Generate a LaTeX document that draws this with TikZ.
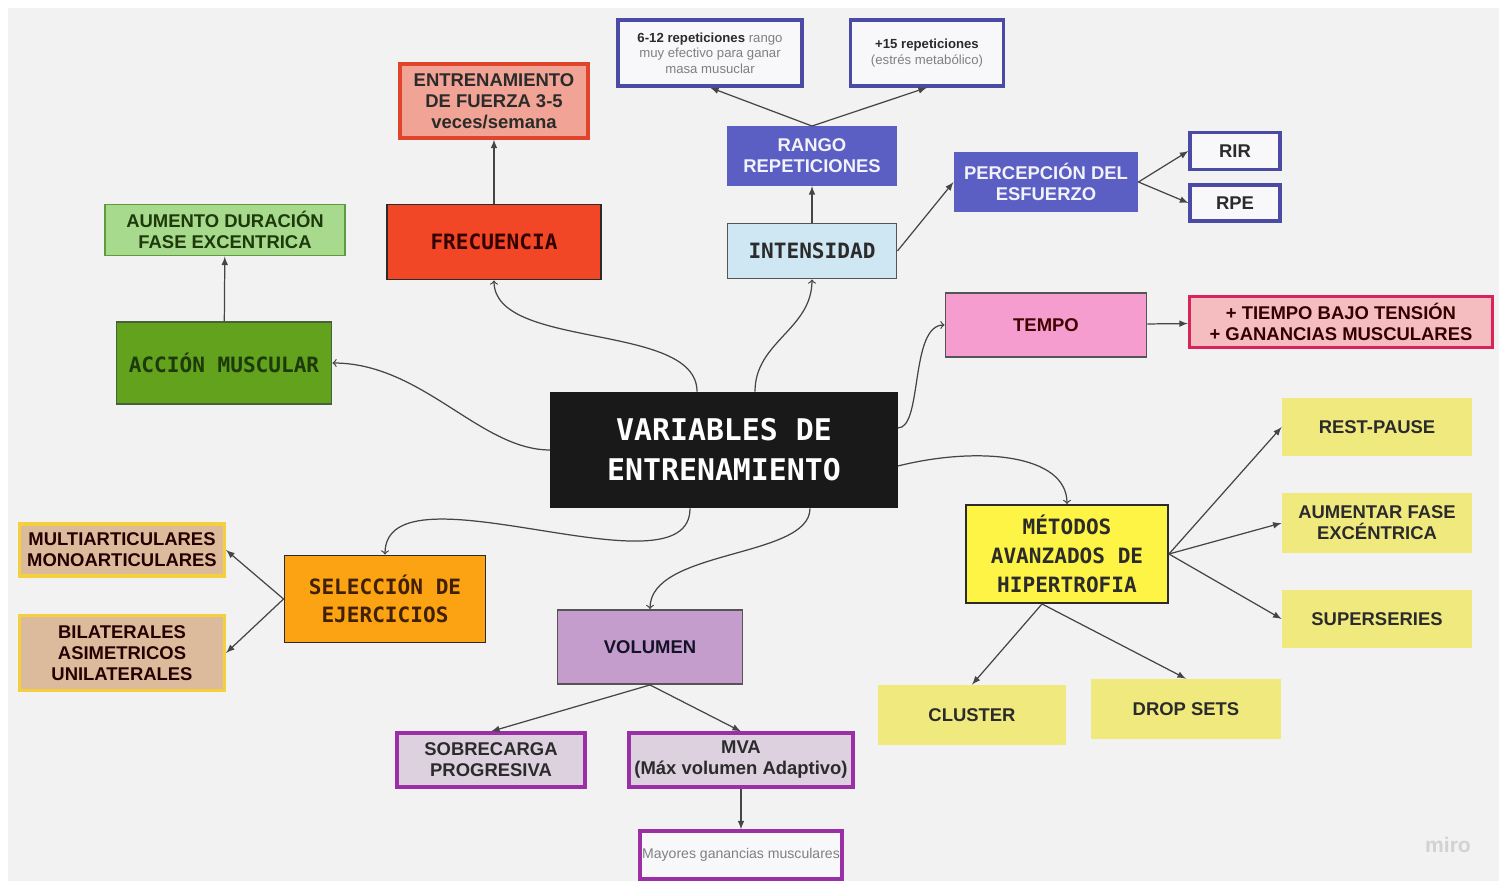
\documentclass[tikz,border=0pt]{standalone}
\usepackage{fontspec}
\setmainfont{Liberation Sans}
\setmonofont{DejaVu Sans Mono}
\usetikzlibrary{arrows}

\definecolor{canvas}{HTML}{F2F2F2}
\definecolor{linkgray}{HTML}{454545}
\definecolor{inkdark}{HTML}{2B2B2B}
\definecolor{frecred}{HTML}{F24726}
\definecolor{salmon}{HTML}{F1A395}
\definecolor{salmonline}{HTML}{E0452C}
\definecolor{lightgreen}{HTML}{A8DA8E}
\definecolor{greenline}{HTML}{5E9A3E}
\definecolor{musclegreen}{HTML}{62A21C}
\definecolor{darkgreen}{HTML}{1C3A0A}
\definecolor{iceblue}{HTML}{CFE6F3}
\definecolor{violet}{HTML}{5B5FC4}
\definecolor{violetline}{HTML}{4B4BA6}
\definecolor{paper}{HTML}{F8F8FB}
\definecolor{pinkbox}{HTML}{F59DCF}
\definecolor{rosebox}{HTML}{F6BDC0}
\definecolor{roseline}{HTML}{D7245C}
\definecolor{yellowbox}{HTML}{FEF445}
\definecolor{paleyellow}{HTML}{F0E97E}
\definecolor{orangebox}{HTML}{FCA313}
\definecolor{tanbox}{HTML}{DCBB9D}
\definecolor{tanline}{HTML}{F4CF3E}
\definecolor{lilac}{HTML}{C59DCC}
\definecolor{lavender}{HTML}{DDD1E0}
\definecolor{purpleline}{HTML}{9B2FA6}

\begin{document}
\begin{tikzpicture}[x=0.02cm, y=-0.02cm]
\tikzstyle{block} = [rectangle, draw=inkdark, line width=1.1pt, text=inkdark,
align=center, inner sep=1pt, font=\fontsize{10.5}{12}\selectfont\bfseries]
\tikzstyle{block_mono} = [block, font=\fontsize{12}{16.3}\selectfont\ttfamily\bfseries]
\tikzstyle{block_thin} = [block, line width=1.8pt]
\tikzstyle{note} = [block_thin, fill=paper, draw=violetline,
font=\fontsize{7.5}{8.8}\selectfont, text=gray]
\tikzstyle{method} = [rectangle, fill=paleyellow, text=inkdark, align=center,
minimum width=3.8cm, minimum height=1.18cm, font=\fontsize{10.5}{12}\selectfont\bfseries]
\tikzstyle{line} = [draw=linkgray, line width=0.7pt, ->]
\tikzstyle{link} = [draw=linkgray, line width=0.7pt, -latex]

\useasboundingbox (0,0) rectangle (1499,881);
\fill[white] (0,0) rectangle (1499,881);
\fill[canvas] (8,8) rectangle (1499,881);

% centre
\node [block_mono, fill=black!90, draw=black!90, text=white, minimum width=6.92cm, minimum height=2.3cm,
font=\fontsize{17}{22.7}\selectfont\ttfamily\bfseries] (centre) at (724,450) {VARIABLES DE\\ENTRENAMIENTO};

% upper left
\node [block_mono, fill=frecred, text=black!80!red, minimum width=4.28cm, minimum height=1.5cm] (frec) at (494,242) {FRECUENCIA};
\node [block_thin, fill=salmon, draw=salmonline, minimum width=3.76cm, minimum height=1.48cm] (fuerza) at (494,101) {ENTRENAMIENTO\\DE FUERZA 3-5\\veces/semana};
\node [block_mono, fill=musclegreen, draw=darkgreen!80, text=darkgreen, minimum width=4.3cm, minimum height=1.64cm] (accion) at (224,363) {ACCIÓN MUSCULAR};
\node [block, fill=lightgreen, draw=greenline, text=darkgreen, minimum width=4.8cm, minimum height=1.02cm] (aumento) at (225,230) {AUMENTO DURACIÓN\\FASE EXCENTRICA};

% upper right
\node [block_mono, fill=iceblue, draw=inkdark!80, minimum width=3.38cm, minimum height=1.1cm] (intens) at (812,251) {INTENSIDAD};
\node [block, fill=violet, draw=violet, text=white!92!violet, minimum width=3.38cm, minimum height=1.16cm] (rango) at (812,156) {RANGO\\REPETICIONES};
\node [note, minimum width=3.68cm, minimum height=1.32cm] (reps_a) at (710,53) {{\bfseries\color{inkdark}6-12 repeticiones} rango\\muy efectivo para ganar\\masa musuclar};
\node [note, minimum width=3.06cm, minimum height=1.32cm] (reps_b) at (927,53) {{\bfseries\color{inkdark}+15 repeticiones}\\(estrés metabólico)};
\node [block, fill=violet, draw=violet, text=white!92!violet, minimum width=3.66cm, minimum height=1.18cm] (percep) at (1046,182) {PERCEPCIÓN DEL\\ESFUERZO};
\node [block_thin, fill=paper, draw=violetline, minimum width=1.8cm, minimum height=0.74cm] (rir) at (1235,151) {RIR};
\node [block_thin, fill=paper, draw=violetline, minimum width=1.8cm, minimum height=0.72cm] (rpe) at (1235,203) {RPE};
\node [block, fill=pinkbox, draw=inkdark!80, text=black!75!red, minimum width=4.02cm, minimum height=1.28cm] (tempo) at (1046,325) {TEMPO};
\node [block_thin, fill=rosebox, draw=roseline, text=black!80!red, minimum width=6.06cm, minimum height=1.02cm] (tension) at (1341,322) {+ TIEMPO BAJO TENSIÓN\\+ GANANCIAS MUSCULARES};

% lower right
\node [block_mono, fill=yellowbox, minimum width=4.04cm, minimum height=1.96cm] (metodos) at (1067,554) {MÉTODOS\\AVANZADOS DE\\HIPERTROFIA};
\node [method] (restpause) at (1377,427) {REST-PAUSE};
\node [method, minimum height=1.2cm] (excentrica) at (1377,523) {AUMENTAR FASE\\EXCÉNTRICA};
\node [method] (superseries) at (1377,619) {SUPERSERIES};
\node [method, minimum width=3.78cm, minimum height=1.2cm] (cluster) at (972,715) {CLUSTER};
\node [method, minimum width=3.82cm, minimum height=1.2cm] (dropsets) at (1186,709) {DROP SETS};

% lower left
\node [block_mono, fill=orangebox, text=black!75!orange, minimum width=4.02cm, minimum height=1.74cm] (seleccion) at (385,599) {SELECCIÓN DE\\EJERCICIOS};
\node [block_thin, fill=tanbox, draw=tanline, text=black!85!red, minimum width=4.1cm, minimum height=1.04cm] (multi) at (122,550) {MULTIARTICULARES\\MONOARTICULARES};
\node [block_thin, fill=tanbox, draw=tanline, text=black!85!red, minimum width=4.1cm, minimum height=1.5cm] (bilat) at (122,653) {BILATERALES\\ASIMETRICOS\\UNILATERALES};
\node [block, fill=lilac, draw=inkdark!80, text=black!80!violet, minimum width=3.7cm, minimum height=1.48cm] (volumen) at (650,647) {VOLUMEN};
\node [block_thin, fill=lavender, draw=purpleline, minimum width=3.76cm, minimum height=1.08cm] (sobrecarga) at (491,760) {SOBRECARGA\\PROGRESIVA};
\node [block_thin, fill=lavender, draw=purpleline, minimum width=4.48cm, minimum height=1.08cm] (mva) at (741,760) {MVA\\(Máx volumen Adaptivo)};
\node [block_thin, fill=paper, draw=purpleline, text=gray, minimum width=4.04cm, minimum height=0.96cm,
font=\fontsize{8}{9}\selectfont] (mayores) at (741,855) {Mayores ganancias musculares};

\node [text=gray!35, font=\fontsize{12}{12}\selectfont\bfseries] (miro) at (1448,845) {miro};

% curved links from the centre
\path [line] ([xshift=-0.54cm]centre.north) .. controls +(0,-70) and +(0,70) .. (frec.south);
\path [line] ([xshift=0.62cm]centre.north) .. controls +(0,-50) and +(0,50) .. (intens.south);
\path [line] (centre.west) .. controls +(-70,0) and +(90,0) .. (accion.east);
\path [line] ([yshift=0.44cm]centre.east) .. controls +(25,0) and +(-35,0) .. (tempo.west);
\path [line] ([yshift=-0.32cm]centre.east) .. controls +(80,-20) and +(0,-50) .. (metodos.north);
\path [line] ([xshift=-0.68cm]centre.south) .. controls +(0,92) and +(0,-96) .. (seleccion.north);
\path [line] ([xshift=1.72cm]centre.south) .. controls +(0,50) and +(0,-60) .. (volumen.north);

% straight links
\tikzstyle{every path}=[link]
\path (frec) -- (fuerza);
\path (accion) -- (aumento);
\path (intens) -- (rango);
\path (rango.north) -- (reps_a.south);
\path (rango.north) -- (reps_b.south);
\path (intens.east) -- (percep.west);
\path (percep.east) -- (rir.west);
\path (percep.east) -- (rpe.west);
\path (tempo) -- (tension);
\path (metodos.east) -- (restpause.west);
\path (metodos.east) -- (excentrica.west);
\path (metodos.east) -- (superseries.west);
\path ([xshift=-0.5cm]metodos.south) -- (cluster.north);
\path ([xshift=-0.5cm]metodos.south) -- (dropsets.north);
\path (seleccion.west) -- (multi.east);
\path (seleccion.west) -- (bilat.east);
\path (volumen.south) -- (sobrecarga.north);
\path (volumen.south) -- (mva.north);
\path (mva) -- (mayores);

\end{tikzpicture}
\end{document}
